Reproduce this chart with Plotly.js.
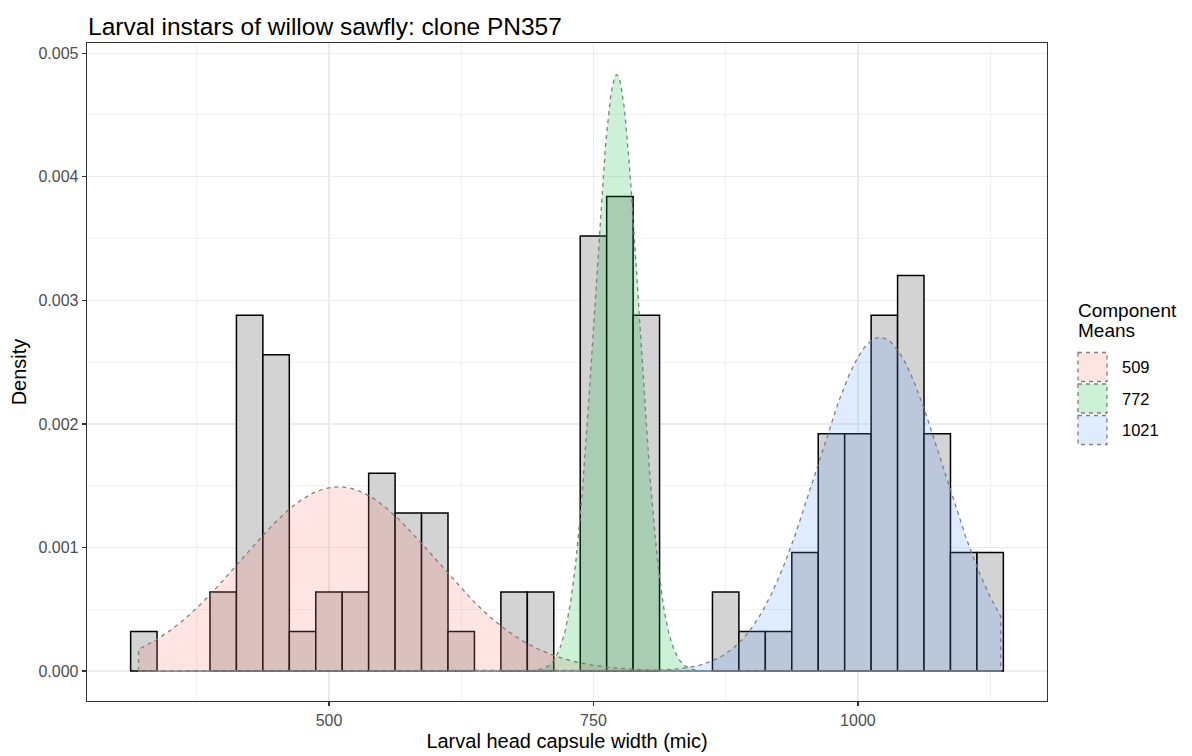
<!DOCTYPE html>
<html>
<head>
<meta charset="utf-8">
<script src="https://cdn.plot.ly/plotly-3.0.1.min.js"></script>
<style>
  html, body { margin: 0; padding: 0; background: #ffffff; }
  #chart { width: 1192px; height: 756px; }
</style>
</head>
<body>
<div id="chart"></div>
<script>
// ---------- data ----------
const binStart = 312.5;
const binWidth = 25;
const binCounts = [1,0,0,2,9,8,1,2,2,5,4,4,1,0,2,2,0,11,12,9,0,0,2,1,1,3,6,6,9,10,6,3,3];

const compMeans = [509, 772, 1021];
const compSDs = [91.5, 21, 60];
const compWeights = [0.342, 0.254, 0.406];
const dataMin = 320;
const dataMax = 1135;

const xTickVals = [500, 750, 1000];
const titleText = "Larval instars of willow sawfly: clone PN357";
const xTitle = "Larval head capsule width (mic)";
const yTitle = "Density";
const legendTitle = ["Component", "Means"];

// ---------- styling ----------
const FONT = "Liberation Sans, Arial, sans-serif";
const fillColors = ["rgba(248,118,109,0.2)", "rgba(0,186,56,0.2)", "rgba(97,156,255,0.2)"];
const curveLine = "#7F7F7F";

// plot area in pixels
const L = 87, R = 1047, T = 43, B = 701;
const W = 1192, H = 756;
const px2paperX = px => (px - L) / (R - L);
const px2paperY = py => (B - py) / (B - T);

// ---------- traces ----------
const nTotal = binCounts.reduce((a, b) => a + b, 0);
const centers = binCounts.map((c, i) => binStart + binWidth * (i + 0.5));
const dens = binCounts.map(c => c === 0 ? null : c / (nTotal * binWidth));

const traces = [{
  type: "bar",
  x: centers,
  y: dens,
  width: binWidth,
  marker: { color: "#D3D3D3", line: { color: "#000000", width: 1.5 } },
  hoverinfo: "x+y",
  showlegend: false
}];

compMeans.forEach((mu, k) => {
  const s = compSDs[k], w = compWeights[k];
  const xs = [dataMin], ys = [0];
  for (let x = dataMin; x <= dataMax; x += 1) {
    xs.push(x);
    ys.push(w * Math.exp(-0.5 * ((x - mu) / s) ** 2) / (s * Math.sqrt(2 * Math.PI)));
  }
  xs.push(dataMax, dataMin);
  ys.push(0, 0);
  traces.push({
    type: "scatter",
    mode: "lines",
    x: xs, y: ys,
    fill: "toself",
    fillcolor: fillColors[k],
    line: { color: curveLine, width: 1.3, dash: "4px,4px" },
    hoverinfo: "skip",
    showlegend: false
  });
});

// ---------- custom legend ----------
const shapes = [];
const annotations = [];
const legTitleY = [310, 331];
legendTitle.forEach((t, i) => {
  annotations.push({
    xref: "paper", yref: "paper",
    x: px2paperX(1076), y: px2paperY(legTitleY[i]),
    xanchor: "left", yanchor: "middle",
    text: t, showarrow: false,
    font: { family: FONT, size: 19, color: "#000000" }
  });
});
const rowCenters = [367, 398.5, 430];
compMeans.forEach((mu, k) => {
  const cy = rowCenters[k];
  shapes.push({
    type: "rect", xref: "paper", yref: "paper",
    x0: px2paperX(1078), x1: px2paperX(1107),
    y0: px2paperY(cy - 14.5), y1: px2paperY(cy + 14.5),
    fillcolor: fillColors[k],
    line: { color: curveLine, width: 1.3, dash: "4px,4px" }
  });
  annotations.push({
    xref: "paper", yref: "paper",
    x: px2paperX(1120), y: px2paperY(cy),
    xanchor: "left", yanchor: "middle",
    text: String(Math.round(mu)), showarrow: false,
    font: { family: FONT, size: 16.5, color: "#000000" }
  });
});

// ---------- layout ----------
const axisCommon = {
  showline: true, mirror: true, linecolor: "#333333", linewidth: 1.3,
  ticks: "outside", ticklen: 4, tickwidth: 1.2, tickcolor: "#333333",
  showgrid: true, gridcolor: "#EBEBEB", gridwidth: 1.2,
  zeroline: false,
  tickfont: { family: FONT, size: 16, color: "#4D4D4D" }
};

const layout = {
  width: W, height: H,
  paper_bgcolor: "#ffffff", plot_bgcolor: "#ffffff",
  margin: { l: L, r: W - R, t: T, b: H - B, pad: 0 },
  font: { family: FONT },
  title: {
    text: titleText,
    xref: "container", yref: "container",
    x: 88 / W, xanchor: "left",
    y: 1 - 26 / H, yanchor: "middle",
    font: { family: FONT, size: 24.5, color: "#000000" }
  },
  xaxis: Object.assign({}, axisCommon, {
    range: [271.25, 1178.75],
    tickmode: "array", tickvals: xTickVals,
    minor: { tickmode: "linear", tick0: 375, dtick: 250, showgrid: true, gridcolor: "#EBEBEB", gridwidth: 0.7, ticks: "" },
    title: { text: xTitle, font: { family: FONT, size: 20, color: "#000000" }, standoff: 6 }
  }),
  yaxis: Object.assign({}, axisCommon, {
    range: [-0.000242, 0.005082],
    tickmode: "linear", tick0: 0, dtick: 0.001, tickformat: ".3f",
    minor: { tickmode: "linear", tick0: 0.0005, dtick: 0.001, showgrid: true, gridcolor: "#EBEBEB", gridwidth: 0.7, ticks: "" },
    title: { text: yTitle, font: { family: FONT, size: 20, color: "#000000" }, standoff: 6 }
  }),
  bargap: 0,
  shapes: shapes,
  annotations: annotations,
  showlegend: false
};

Plotly.newPlot("chart", traces, layout, { displayModeBar: false, staticPlot: true });
</script>
</body>
</html>
